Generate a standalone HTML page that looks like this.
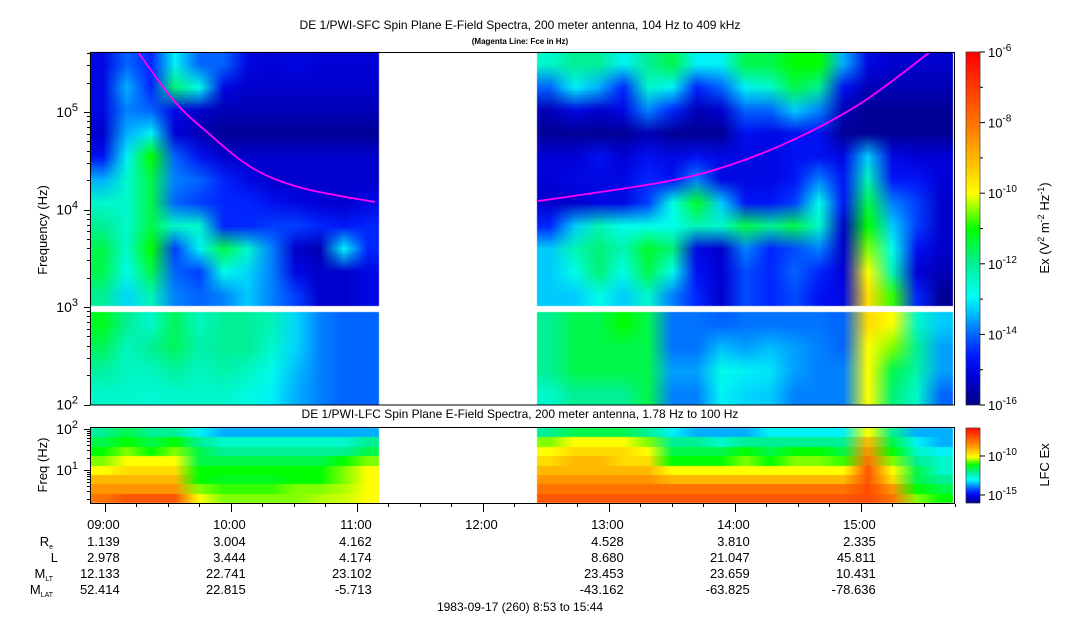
<!DOCTYPE html>
<html><head><meta charset="utf-8">
<style>
html,body{margin:0;padding:0;background:#fff;}
#wrap{position:relative;width:1083px;height:620px;overflow:hidden;font-family:"Liberation Sans",sans-serif;}
canvas,svg{position:absolute;left:0;top:0;}
</style></head>
<body>
<div id="wrap">
<canvas id="cv" width="1083" height="620"></canvas>
<svg id="sv" width="1083" height="620" xmlns="http://www.w3.org/2000/svg"></svg>
</div>
<script>
// ---- data ----
const seg1Range = [8.8833, 11.18];
const seg2Range = [12.43, 15.733];
const sfcSeg1Upper = [
[-15,-14,-14.5,-13,-14,-14,-15,-15.2,-15,-15.2,-15.2,-15.2],
[-15,-13.5,-14.5,-11.8,-12.8,-15,-15.3,-15.3,-15.3,-15.3,-15.3,-15.3],
[-15,-13.8,-14,-15,-15.3,-15.5,-15.5,-15.5,-15.5,-15.5,-15.5,-15.5],
[-15.3,-13.5,-13,-15.2,-15.5,-15.8,-15.8,-15.8,-15.8,-15.8,-15.8,-15.8],
[-14.8,-13,-11,-14,-14.8,-15.3,-15.3,-15.3,-15.3,-15.3,-15.3,-15.3],
[-13.5,-12.5,-11.5,-13.8,-14,-14.5,-15,-15.3,-15.3,-15.3,-15.3,-15.3],
[-12.5,-12.5,-11.5,-14,-14.3,-14.5,-14.5,-14.8,-15,-15.2,-15.3,-15],
[-12,-12.5,-11.5,-12.5,-12.5,-14.5,-14.5,-14.3,-14.3,-14.5,-14.7,-14.5],
[-11.5,-12.5,-11,-14.3,-13,-11.5,-12.5,-13.8,-15.3,-15.5,-13,-14.5],
[-11.5,-12.8,-11.5,-14,-14.3,-12.8,-13.2,-13.8,-15,-15.3,-15.3,-15],
[-12,-13.2,-12.3,-13.8,-14,-13.8,-13.3,-13.8,-14.3,-15.3,-15.3,-15]
];
const sfcSeg1Lower = [
[-11.2,-12,-12.5,-11.6,-12.4,-12,-12,-12.3,-13.2,-13.8,-14,-14],
[-11.6,-12.4,-12,-11.6,-12.2,-12,-12,-12.5,-13.2,-13.8,-14,-14],
[-12.1,-12.4,-12.4,-12.1,-12.4,-12.2,-12.4,-12.8,-13.4,-13.8,-14,-14],
[-12.5,-12.5,-12.6,-12.5,-12.5,-12.5,-12.7,-13,-13.5,-13.8,-14,-14]
];
const sfcSeg2Upper = [
[-12.5,-12,-12,-13,-12,-11.5,-13,-13,-11.5,-11.5,-11,-11,-13.5,-15,-15.3,-15.3,-15.3],
[-14,-13,-13.5,-14.5,-12.5,-13,-14.5,-14,-13,-12.5,-11.5,-12,-14.8,-15.5,-15.5,-15.5,-15.5],
[-15.5,-15,-15.3,-15,-13.8,-14.5,-15.5,-15.3,-14,-14,-13.3,-13.8,-15.5,-15.8,-15.8,-15.8,-15.8],
[-15.8,-15.8,-15.8,-15.8,-15.5,-15.8,-15.8,-15.8,-14.8,-15,-14.8,-14.8,-15.8,-15.8,-15.8,-15.8,-15.8],
[-15.2,-15.2,-14.8,-15.2,-14.8,-15,-14.8,-15,-15,-15,-14.8,-14.8,-15,-13.3,-15,-15.2,-15.2],
[-15.2,-15,-15,-15,-14.5,-14.8,-13.8,-15,-15,-15,-14.7,-13.8,-14.7,-12.3,-14.7,-14.7,-15.2],
[-15.3,-15.3,-15,-15,-14.3,-12.8,-11.3,-13.3,-14.7,-14.7,-14.3,-12.8,-14.7,-11.5,-13.8,-14.3,-15.3],
[-14.5,-13.3,-12.3,-12.8,-12.8,-12.8,-12.3,-12.5,-11.5,-12,-11.5,-12.5,-15.3,-11,-13.3,-14.3,-15.3],
[-13.3,-12.3,-11.8,-12.3,-11.3,-11.8,-15,-15.3,-13.8,-14.5,-14.2,-13.8,-15.3,-10.5,-12.8,-14.8,-15.3],
[-13.3,-12.8,-11.8,-12.8,-11.5,-12.8,-14.8,-15.2,-14.2,-14.5,-14,-14.5,-15.2,-10,-12.3,-15.2,-15.5],
[-13.3,-13.3,-12.8,-13.3,-12.5,-13.8,-14.5,-15.3,-14.2,-14.5,-14.2,-14.8,-15,-9.5,-10.8,-14.5,-15.8]
];
const sfcSeg2Lower = [
[-12,-11.5,-11.5,-11,-11.5,-13.9,-13.9,-14,-13.9,-13.9,-13.9,-13.9,-14,-9.5,-10,-12.5,-13.3],
[-12,-11.5,-11.5,-11.5,-11.5,-13.9,-13.9,-13.4,-13.6,-13.4,-13.6,-13.8,-14,-10,-10.5,-12,-13.6],
[-12,-11.5,-11.5,-11.5,-11.5,-13.6,-13.6,-12.8,-13,-13.1,-13.6,-13.8,-13.8,-10,-11.5,-12.2,-13.6],
[-12.5,-12,-12,-12,-11.5,-13.8,-13.8,-13,-13.2,-13.3,-13.8,-13.8,-13.8,-10,-11.8,-12.5,-14]
];
const lfcSeg1 = [
[-12,-11.5,-12,-12,-13,-13.5,-13.5,-13.5,-13.5,-13.5,-13.5,-13.5],
[-11.5,-11,-11.5,-11,-12,-12.5,-12.5,-12.5,-12.5,-12.5,-12.5,-12],
[-11,-10.5,-11,-10.5,-11.5,-12,-12,-12,-12,-12,-12,-11.5],
[-10.5,-10,-10,-10,-11.5,-11.5,-11.5,-11.5,-11.5,-11.5,-11,-10.5],
[-10,-9.5,-9.5,-9.5,-11,-11,-11,-11,-11,-11,-10.5,-10],
[-9,-9,-9,-9,-11,-11.2,-11.2,-11.2,-11,-11,-10.5,-10],
[-8.5,-8.5,-8.5,-8.5,-10.5,-10.8,-10.8,-10.8,-10.5,-10.5,-10.3,-10],
[-8,-7.5,-7.5,-7.5,-10,-10.5,-10.5,-10.5,-10.5,-10.3,-10.2,-10]
];
const lfcSeg2 = [
[-12,-11.5,-11.5,-11.5,-12,-13,-13.5,-13.5,-13.5,-13,-13,-13,-13,-10,-12,-13.5,-13.5],
[-10.5,-10,-10,-10,-10.5,-12,-12,-12.5,-12,-12,-12,-12,-12,-9,-11.5,-13,-13.5],
[-10,-9.5,-9.5,-9.5,-10,-11.5,-11.5,-11.5,-11,-11.5,-11,-11,-11.5,-8.5,-11,-12.5,-13],
[-9.5,-9,-9,-9.5,-9.5,-11,-11,-11,-10.5,-11,-10.5,-10.5,-10.8,-8,-10.5,-12,-12.5],
[-9,-9,-9,-9,-9,-10,-10,-10,-10,-10,-10,-10,-10,-7.5,-10,-11.5,-12.5],
[-8.5,-8.5,-8.5,-8.5,-8.5,-9,-9,-9,-9,-9,-9,-9,-9,-7.5,-9.5,-11.5,-12],
[-8,-8,-8,-8,-8,-8,-8,-8,-8,-8,-8,-8,-8,-7.3,-8.5,-11,-11.5],
[-7.5,-7.5,-7.5,-7.5,-7.5,-7.5,-7.5,-7.5,-7.5,-7.5,-7.5,-7.5,-7.5,-7.3,-8,-10.5,-11]
];
const fceTimes1 = [9.264,9.558,9.82,10.17,10.566,11.145];
const fceValues1 = [412000,126700,61000,26700,16600,11900];
const fceTimes2 = [12.439,13.431,13.963,14.495,15.018,15.55];
const fceValues2 = [12200,19100,28600,54000,127000,412000];
const hourTicks = [9,10,11,12,13,14,15];
const hourLabels = ["09:00","10:00","11:00","12:00","13:00","14:00","15:00"];
const rowNames = ["R","L","M","M"];
const rowSubs = ["e","","LT","LAT"];
const reVals = ["1.139","3.004","4.162","","4.528","3.810","2.335"];
const lVals = ["2.978","3.444","4.174","","8.680","21.047","45.811"];
const mltVals = ["12.133","22.741","23.102","","23.453","23.659","10.431"];
const mlatVals = ["52.414","22.815","-5.713","","-43.162","-63.825","-78.636"];
const cbarTicks = [-6,-8,-10,-12,-14,-16];

// ---- scales ----
const X0=90, X1=955, T0=8.8833;
const xS = t => X0 + (t - T0) * 126;
const yU = lf => 112 - (lf - 5) * 97.5;
const yL = lf => 429 + (2 - lf) * 41;
const stops=[[0,[0,0,128]],[0.08,[0,0,215]],[0.14,[0,25,255]],[0.2,[0,100,255]],[0.26,[0,190,255]],[0.31,[0,255,245]],[0.4,[0,240,150]],[0.5,[0,255,0]],[0.6,[255,255,0]],[0.78,[255,128,0]],[1,[255,0,0]]];
function cmap(v){
  let n=(v+16)/10; n=Math.max(0,Math.min(1,n));
  for(let i=1;i<stops.length;i++){ if(n<=stops[i][0]){const a=stops[i-1],b=stops[i];const f=(n-a[0])/(b[0]-a[0]);return a[1].map((c,k)=>Math.round(c+(b[1][k]-c)*f));}}
  return stops[stops.length-1][1];
}
const cv=document.getElementById('cv'); const ctx=cv.getContext('2d');
function heat(grid,x0,x1,y0,y1,smooth){
  const r=grid.length,c=grid[0].length;
  const o=document.createElement('canvas');o.width=c;o.height=r;
  const oc=o.getContext('2d');const im=oc.createImageData(c,r);
  grid.forEach((row,i)=>row.forEach((v,j)=>{const col=cmap(v);const p=(i*c+j)*4;im.data[p]=col[0];im.data[p+1]=col[1];im.data[p+2]=col[2];im.data[p+3]=255;}));
  oc.putImageData(im,0,0);
  ctx.imageSmoothingEnabled=smooth;
  ctx.drawImage(o,x0,y0,x1-x0,y1-y0);
}
heat(sfcSeg1Upper,xS(seg1Range[0]),xS(seg1Range[1]),52,306,true);
heat(sfcSeg1Lower,xS(seg1Range[0]),xS(seg1Range[1]),312,405,true);
heat(sfcSeg2Upper,xS(seg2Range[0]),xS(seg2Range[1]),52,306,true);
heat(sfcSeg2Lower,xS(seg2Range[0]),xS(seg2Range[1]),312,405,true);
function heatH(grid,x0,x1,y0,y1){
  const rh=(y1-y0)/grid.length;
  grid.forEach((row,i)=>heat([row],x0,x1,Math.round(y0+i*rh),Math.round(y0+(i+1)*rh),true));
}
heatH(lfcSeg1,xS(seg1Range[0]),xS(seg1Range[1]),428,503);
heatH(lfcSeg2,xS(seg2Range[0]),xS(seg2Range[1]),428,503);
for(let y=52;y<405;y++){const c=cmap(-6-(y-52)/353*10);ctx.fillStyle=`rgb(${c})`;ctx.fillRect(966,y,14,1);}
for(let y=428;y<503;y++){const c=cmap(-6.3-(y-428)/75*9.7);ctx.fillStyle=`rgb(${c})`;ctx.fillRect(966,y,14,1);}

// ---- svg ----
const NS='http://www.w3.org/2000/svg';const sv=document.getElementById('sv');
function el(tag,attrs,parent,text){const e=document.createElementNS(NS,tag);for(const k in attrs)e.setAttribute(k,attrs[k]);if(text!==undefined)e.textContent=text;(parent||sv).appendChild(e);return e;}
function txt(x,y,s,size,anchor,name){const t=el('text',{x:x,y:y,'font-size':size,'text-anchor':anchor||'middle','font-family':'Liberation Sans, sans-serif',fill:'#000'},sv,s);

return t;}
function pow(x,y,base,exp,size,anchor,name){const t=el('text',{x:x,y:y,'font-size':size,'text-anchor':anchor,'font-family':'Liberation Sans, sans-serif'});


el('tspan',{},t,base);el('tspan',{dy:-6,'font-size':size-3},t,exp);return t;}

txt(520,29,"DE 1/PWI-SFC  Spin Plane E-Field Spectra, 200 meter antenna, 104 Hz to 409 kHz",12,'middle','main-title');
const sub=txt(520,44,"(Magenta Line: Fce in Hz)",8,'middle','subtitle');sub.setAttribute('font-weight','bold');
txt(520,418,"DE 1/PWI-LFC  Spin Plane E-Field Spectra, 200 meter antenna, 1.78 Hz to 100 Hz",12,'middle','lfc-title');

function fcePath(ts,vs,name){
  const pts=ts.map((t,i)=>[xS(t),yU(Math.log10(vs[i]))]);
  let d='M'+pts[0][0].toFixed(1)+','+pts[0][1].toFixed(1);
  for(let i=0;i<pts.length-1;i++){
    const p0=pts[Math.max(0,i-1)],p1=pts[i],p2=pts[i+1],p3=pts[Math.min(pts.length-1,i+2)];
    const c1=[p1[0]+(p2[0]-p0[0])/6,p1[1]+(p2[1]-p0[1])/6];
    const c2=[p2[0]-(p3[0]-p1[0])/6,p2[1]-(p3[1]-p1[1])/6];
    d+='C'+c1[0].toFixed(1)+','+c1[1].toFixed(1)+' '+c2[0].toFixed(1)+','+c2[1].toFixed(1)+' '+p2[0].toFixed(1)+','+p2[1].toFixed(1);
  }
  const p=el('path',{d:d,stroke:'#ff00ff','stroke-width':1.8,fill:'none','stroke-linejoin':'round'});
  
  }
fcePath(fceTimes1,fceValues1,'fce-line-1');fcePath(fceTimes2,fceValues2,'fce-line-2');

const f1=el('rect',{x:90.5,y:52.5,width:864,height:352.5,fill:'none',stroke:'#000'});


const f2=el('rect',{x:90.5,y:427.5,width:864,height:76,fill:'none',stroke:'#000'});


el('rect',{x:966,y:52,width:14,height:353,fill:'none',stroke:'#000','stroke-width':0.5});
el('rect',{x:966,y:428,width:14,height:75,fill:'none',stroke:'#000','stroke-width':0.5});

for(let d=2;d<=5;d++){for(let m=1;m<10;m++){const lf=d+Math.log10(m);if(lf>5.61)break;const y=Math.round(yU(lf))+0.5;el('line',{x1:m==1?84:87,x2:90,y1:y,y2:y,stroke:'#000'});}}
[2,3,4,5].forEach(d=>pow(78,yU(d)+5,'10',String(d),14,'end','y-tick-label-'+d));
for(let d=0;d<=1;d++){for(let m=1;m<10;m++){const lf=d+Math.log10(m);if(lf<0.25)continue;const y=Math.round(yL(lf))+0.5;el('line',{x1:m==1?84:87,x2:90,y1:y,y2:y,stroke:'#000'});}}
el('line',{x1:84,x2:90,y1:429.5,y2:429.5,stroke:'#000'});
[1,2].forEach(d=>pow(78,yL(d)+5,'10',String(d),14,'end','lfc-y-tick-label-'+d));
const yt=txt(0,0,"Frequency (Hz)",13,'middle','y-axis-title');yt.setAttribute('transform','translate(47,230) rotate(-90)');
const yt2=txt(0,0,"Freq (Hz)",13,'middle','lfc-y-axis-title');yt2.setAttribute('transform','translate(47,465) rotate(-90)');

cbarTicks.forEach((e,i)=>{const y=52+i*70.6;el('line',{x1:980,x2:985,y1:y,y2:y,stroke:'#000'});if(i<5)el('line',{x1:980,x2:983,y1:y+35.3,y2:y+35.3,stroke:'#000'});pow(988,y+5,'10',String(e),13,'start','cbar-label-'+i);});
const ct=el('text',{'font-size':13,'text-anchor':'middle','font-family':'Liberation Sans, sans-serif',transform:'translate(1049,228) rotate(-90)'});


el('tspan',{},ct,'Ex (V');el('tspan',{dy:-5,'font-size':9},ct,'2');el('tspan',{dy:5},ct,' m');el('tspan',{dy:-5,'font-size':9},ct,'-2');el('tspan',{dy:5},ct,' Hz');el('tspan',{dy:-5,'font-size':9},ct,'-1');el('tspan',{dy:5},ct,')');
[[-10,456],[-15,495]].forEach((p,i)=>{el('line',{x1:980,x2:985,y1:p[1],y2:p[1],stroke:'#000'});pow(988,p[1]+5,'10',String(p[0]),13,'start','lfc-cbar-label-'+i);});
const lt=txt(0,0,"LFC Ex",13,'middle','lfc-colorbar-title');lt.setAttribute('transform','translate(1049,465) rotate(-90)');

for(let t=9;t<=15.75;t+=0.25){const x=Math.round(xS(t))+0.5;const maj=Math.abs(t-Math.round(t))<1e-6;el('line',{x1:x,x2:x,y1:504,y2:maj?512:507,stroke:'#000'});}
const rows=[hourLabels,reVals,lVals,mltVals,mlatVals];const ys=[529,546,562,578,594];
rows.forEach((r,ri)=>r.forEach((s,i)=>{if(s)txt(xS(hourTicks[i])+15,ys[ri],s,13,'end','table-'+ri+'-'+i);}));
rowNames.forEach((n,i)=>{const t=el('text',{x:i==1?58:53,y:ys[i+1],'font-size':13,'text-anchor':'end','font-family':'Liberation Sans, sans-serif'});


el('tspan',{},t,n);if(rowSubs[i]){el('tspan',{dy:3,'font-size':7},t,rowSubs[i]);}});
txt(520,611,"1983-09-17 (260) 8:53 to 15:44",12,'middle','date-label');
</script>
</body></html>
